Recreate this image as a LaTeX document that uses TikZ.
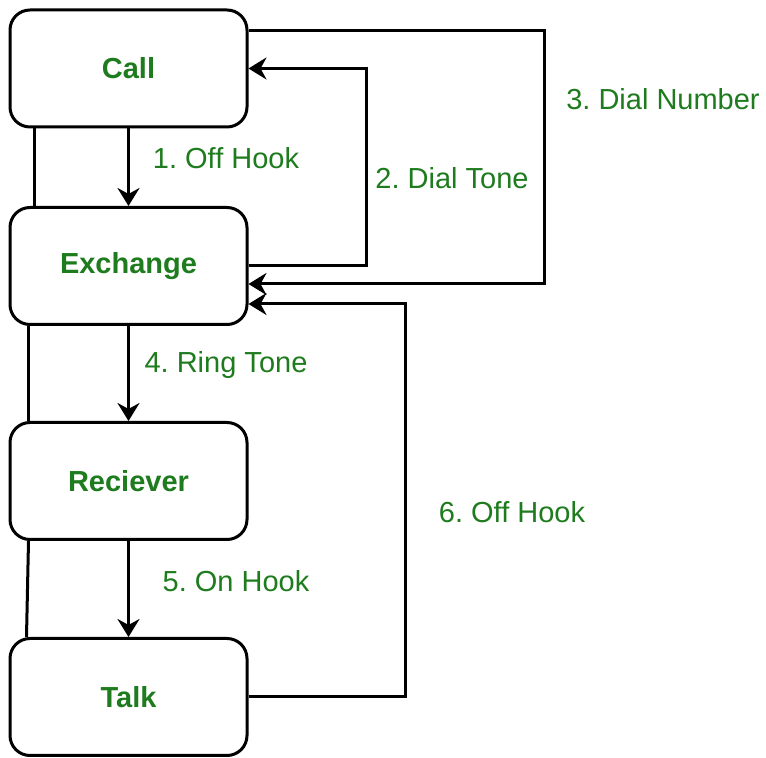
\documentclass[tikz,border=0pt]{standalone}
\usepackage{fontspec}
\setmainfont{Liberation Sans}
\usetikzlibrary{arrows.meta}
\definecolor{labgreen}{HTML}{1E7B1E}
\frenchspacing
\tikzset{
    state/.style={draw, rectangle, rounded corners=10pt, line width=1.5pt, minimum width=118.5pt, minimum height=58.5pt, font=\fontsize{14.5}{17}\selectfont\bfseries, text=labgreen},
    lbl/.style={font=\fontsize{14.5}{17}\selectfont, text=labgreen},
    link/.style={line width=1.5pt},
    arr/.style={line width=1.5pt, -{Stealth[length=9pt, width=11pt, inset=3pt]}}
}
\begin{document}
\begin{tikzpicture}[x=0.5pt, y=-0.5pt]
        \useasboundingbox (0, 0) rectangle (766, 758);

        % Stati
        \node[state] (call) at (128.5, 68.5) {Call};
        \node[state] (exchange) at (128.5, 266) {Exchange};
        \node[state] (recv) at (128.5, 481) {Reciever};
        \node[state] (talk) at (128.5, 697) {Talk};

        % Collegamenti a sinistra
        \draw[link] ([xshift=13pt]call.south west) -- ([xshift=13pt]exchange.north west);
        \draw[link] ([xshift=10pt]exchange.south west) -- ([xshift=10pt]recv.north west);
        \draw[link] ([xshift=10pt]recv.south west) -- ([xshift=9pt]talk.north west);

        % Frecce verticali
        \draw[arr] (call.south) -- (exchange.north);
        \draw[arr] (exchange.south) -- (recv.north);
        \draw[arr] (recv.south) -- (talk.north);

        % Frecce di ritorno
        \draw[arr] (exchange.east) -- ++(118, 0) |- (call.east);
        \draw[arr] ([yshift=19pt]call.east) -- ++(296, 0) |- ([yshift=-9pt]exchange.east);
        \draw[arr] (talk.east) -- ++(157, 0) |- ([yshift=-19pt]exchange.east);

        % Etichette
        \node[lbl] (l1) at (226, 158) {1. Off Hook};
        \node[lbl] (l2) at (452, 178) {2. Dial Tone};
        \node[lbl] (l3) at (663, 99) {3. Dial Number};
        \node[lbl] (l4) at (226, 365) {4. Ring Tone};
        \node[lbl] (l5) at (236, 581) {5. On Hook};
        \node[lbl] (l6) at (512, 512) {6. Off Hook};

    \end{tikzpicture}
\end{document}
